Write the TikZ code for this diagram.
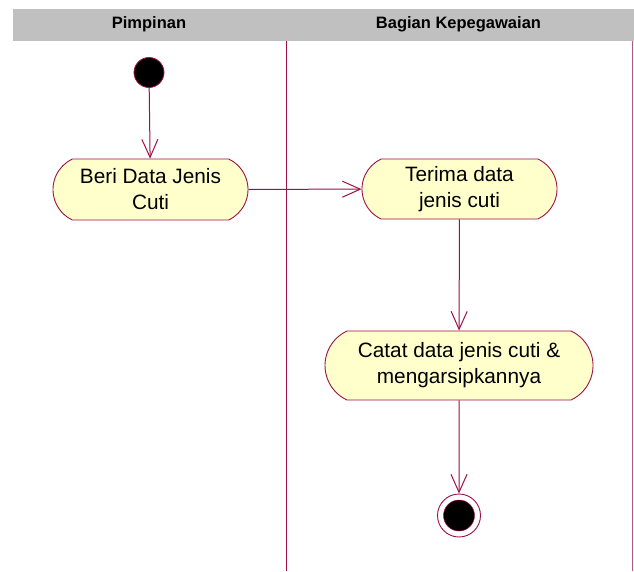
\documentclass[tikz,border=0pt]{standalone}
\usepackage{fontspec}
\setmainfont{Liberation Sans}
\usetikzlibrary{arrows.meta,shapes.misc}

\definecolor{umlline}{RGB}{158,16,70}
\definecolor{umlfill}{RGB}{255,255,204}
\definecolor{lanehead}{RGB}{192,192,192}

\tikzset{
  flow/.style={draw=umlline, line width=1pt,
    -{Straight Barb[length=18pt,width=16pt,line width=1pt]}},
  lanerule/.style={draw=umlline, line width=1pt},
  activity/.style={rounded rectangle, rounded rectangle arc length=130,
    draw=umlline, line width=0.9pt, fill=umlfill, align=center,
    font=\fontsize{20.8}{26}\selectfont, inner sep=0pt},
  headtext/.style={font=\bfseries\fontsize{16.5}{19}\selectfont},
  startstate/.style={circle, draw=umlline, line width=0.8pt, fill=black,
    minimum size=30pt, inner sep=0pt},
  endring/.style={circle, draw=umlline, line width=0.9pt, fill=white,
    minimum size=43pt, inner sep=0pt},
  enddot/.style={circle, draw=umlline, line width=0.5pt, fill=black,
    minimum size=31pt, inner sep=0pt}
}

\begin{document}
\begin{tikzpicture}[x=1pt,y=-1pt]
  \useasboundingbox (0,0) rectangle (634,571);
  \fill[white] (0,0) rectangle (634,571);

  % swimlane header and separators
  \fill[lanehead] (13,9) rectangle (634,41);
  \node[headtext] (laneA) at (149,24.5) {Pimpinan};
  \node[headtext] (laneB) at (458.5,24.5) {Bagian Kepegawaian};
  \coordinate (divTop) at (286,41);
  \coordinate (divBot) at (286,571);
  \coordinate (edgeTop) at (632.5,41);
  \coordinate (edgeBot) at (632.5,571);
  \draw[lanerule] (divTop) -- (divBot);
  \draw[lanerule, draw=umlline!70] (edgeTop) -- (edgeBot);

  % states and activities
  \node[startstate] (start) at (149,72.5) {};
  \node[activity, minimum width=195pt, minimum height=61pt] (beri) at (150.5,189.5)
    {Beri Data Jenis\\Cuti};
  \node[activity, minimum width=195pt, minimum height=60pt] (terima) at (459.5,189)
    {Terima data\\jenis cuti};
  \node[activity, minimum width=268pt, minimum height=69pt] (catat) at (459,365.5)
    {Catat data jenis cuti \&\\mengarsipkannya};
  \node[endring] (finish) at (459,515.5) {};
  \node[enddot] (finishdot) at (459,515.5) {};

  % transitions
  \draw[flow] (start) -- (beri);
  \draw[flow] (beri) -- (terima);
  \draw[flow] (terima) -- (catat);
  \draw[flow] (catat) -- (finish);
\end{tikzpicture}
\end{document}
